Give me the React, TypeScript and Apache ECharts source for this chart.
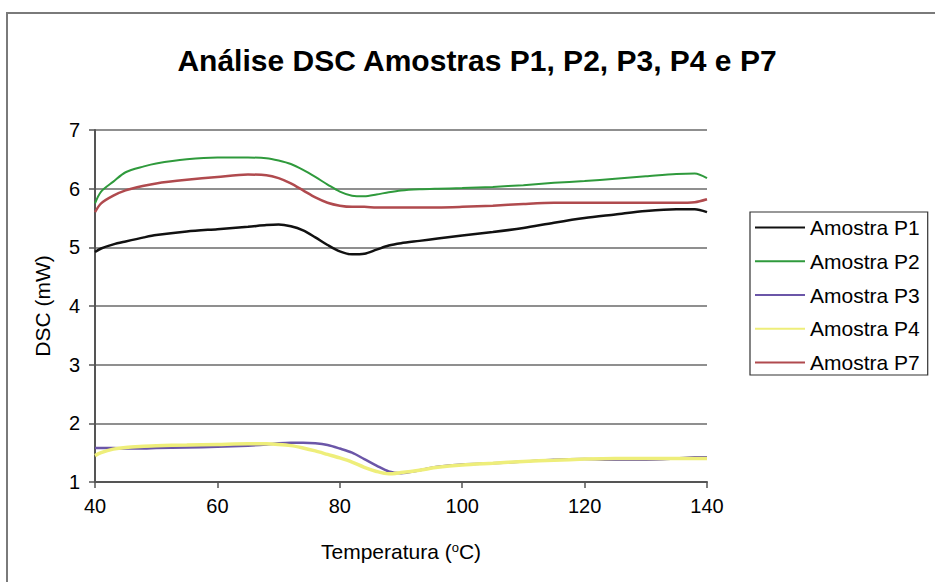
import React, { useEffect, useRef } from "react";
import * as echarts from "echarts";

// Temperature sample points (°C) shared by every sample curve
const temperatures = [
  40, 41, 43, 45, 48, 50, 55, 60, 65, 68, 70, 72, 74, 76, 78, 80, 82, 84, 86, 88,
  90, 93, 96, 100, 105, 110, 115, 120, 125, 130, 135, 138, 140,
];

// DSC signal (mW) for each sample
const amostraP1 = [
  4.92, 4.98, 5.05, 5.1, 5.17, 5.21, 5.27, 5.31, 5.35, 5.38, 5.39, 5.36, 5.29, 5.17,
  5.04, 4.93, 4.88, 4.89, 4.96, 5.03, 5.07, 5.11, 5.15, 5.2, 5.26, 5.33, 5.42, 5.5,
  5.56, 5.62, 5.65, 5.65, 5.6,
];
const amostraP2 = [
  5.75, 5.95, 6.12, 6.28, 6.38, 6.43, 6.5, 6.53, 6.53, 6.52, 6.48, 6.42, 6.32, 6.2,
  6.07, 5.95, 5.88, 5.87, 5.9, 5.94, 5.97, 5.99, 6.0, 6.01, 6.03, 6.06, 6.1, 6.13,
  6.17, 6.21, 6.25, 6.26, 6.18,
];
const amostraP3 = [
  1.58, 1.58, 1.58, 1.57, 1.57, 1.58, 1.59, 1.6, 1.62, 1.64, 1.66, 1.67, 1.67, 1.66,
  1.63, 1.57, 1.5, 1.39, 1.28, 1.18, 1.15, 1.2, 1.26, 1.3, 1.32, 1.35, 1.38, 1.39,
  1.38, 1.38, 1.4, 1.42, 1.42,
];
const amostraP4 = [
  1.45, 1.5, 1.56, 1.59, 1.61, 1.62, 1.63, 1.64, 1.65, 1.65, 1.64, 1.62, 1.58, 1.53,
  1.47, 1.41, 1.34, 1.25, 1.18, 1.14, 1.16, 1.2, 1.25, 1.29, 1.32, 1.35, 1.37, 1.39,
  1.4, 1.4, 1.4, 1.4, 1.4,
];
const amostraP7 = [
  5.6, 5.75, 5.88, 5.97, 6.05, 6.09, 6.15, 6.2, 6.24, 6.23, 6.18, 6.09, 5.97, 5.85,
  5.76, 5.71, 5.69, 5.69, 5.68, 5.68, 5.68, 5.68, 5.68, 5.69, 5.71, 5.74, 5.76, 5.76,
  5.76, 5.76, 5.76, 5.77, 5.82,
];

const seriesNames = ["Amostra P1", "Amostra P2", "Amostra P3", "Amostra P4", "Amostra P7"];
const seriesValues = [amostraP1, amostraP2, amostraP3, amostraP4, amostraP7];
const seriesColors = ["#111111", "#2f9a3c", "#6b56a8", "#eeee7a", "#b04a4e"];
const seriesWidths = [2.5, 2, 2.5, 3.5, 2.5];

const FONT = "Arial, 'Liberation Sans', Helvetica, sans-serif";

export default function App() {
  const ref = useRef<HTMLDivElement>(null);

  useEffect(() => {
    if (!ref.current) return;
    const chart = echarts.init(ref.current, null, { renderer: "svg" });

    const series = seriesNames.map((name, i) => ({
      name,
      type: "line",
      data: temperatures.map((t, j) => [t, seriesValues[i][j]]),
      showSymbol: false,
      symbol: "none",
      smooth: 0.3,
      lineStyle: { color: seriesColors[i], width: seriesWidths[i] },
      itemStyle: { color: seriesColors[i] },
      z: 3,
    }));

    chart.setOption({
      animation: false,
      backgroundColor: "#ffffff",
      textStyle: { fontFamily: FONT },
      title: {
        text: "Análise DSC Amostras P1, P2, P3, P4 e P7",
        left: 472,
        textAlign: "center",
        top: 40,
        textStyle: { fontFamily: FONT, fontSize: 30, fontWeight: "bold", color: "#000" },
      },
      graphic: [
        {
          type: "polyline",
          shape: { points: [[7, 600], [7, 13], [940, 13]] },
          style: { stroke: "#7a7a7a", lineWidth: 2, fill: "none" },
          silent: true,
        },
      ],
      legend: {
        orient: "vertical",
        left: 750,
        top: 212,
        padding: [5, 8, 2, 5],
        borderColor: "#333",
        borderWidth: 1.2,
        itemWidth: 50,
        itemHeight: 2,
        itemGap: 12.75,
        icon: "rect",
        textStyle: { fontFamily: FONT, fontSize: 21, color: "#000", lineHeight: 21 },
        data: seriesNames,
      },
      grid: { left: 95, top: 130, width: 612, height: 352 },
      xAxis: {
        type: "value",
        min: 40,
        max: 140,
        interval: 20,
        name: "Temperatura ({sup|o}C)",
        nameLocation: "middle",
        nameGap: 59,
        nameTextStyle: {
          fontFamily: FONT,
          fontSize: 21,
          color: "#000",
          rich: { sup: { fontFamily: FONT, fontSize: 13, verticalAlign: "top", padding: [0, 0, 8, 0], color: "#000" } },
        },
        axisLine: { lineStyle: { color: "#555", width: 2 } },
        axisTick: { show: true, length: 6, lineStyle: { color: "#555", width: 1.5 } },
        axisLabel: { fontFamily: FONT, fontSize: 20, color: "#000", margin: 14 },
        splitLine: { show: false },
      },
      yAxis: {
        type: "value",
        min: 1,
        max: 7,
        interval: 1,
        name: "DSC (mW)",
        nameLocation: "middle",
        nameGap: 42,
        nameTextStyle: { fontFamily: FONT, fontSize: 21, color: "#000" },
        axisLine: { show: true, lineStyle: { color: "#555", width: 2 } },
        axisTick: { show: true, length: 6, lineStyle: { color: "#555", width: 1.5 } },
        axisLabel: { fontFamily: FONT, fontSize: 20, color: "#000", margin: 15 },
        splitLine: { show: true, lineStyle: { color: "#6a6a6a", width: 1.5 } },
      },
      series,
    });

    return () => chart.dispose();
  }, []);

  return (
    <div
      ref={ref}
      style={{ position: "absolute", left: 0, top: 0, width: 935, height: 582, background: "#fff" }}
    />
  );
}
